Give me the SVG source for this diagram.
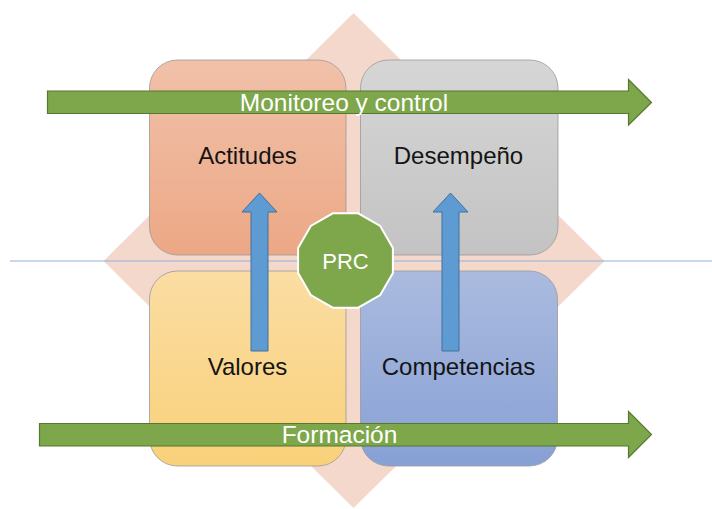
<svg xmlns="http://www.w3.org/2000/svg" width="712" height="509" viewBox="0 0 712 509">
  <defs>
    <linearGradient id="gOrange" x1="0" y1="0" x2="0" y2="1">
      <stop offset="0" stop-color="#F1C1A9"/>
      <stop offset="1" stop-color="#ECA886"/>
    </linearGradient>
    <linearGradient id="gGray" x1="0" y1="0" x2="0" y2="1">
      <stop offset="0" stop-color="#D6D6D6"/>
      <stop offset="1" stop-color="#C3C3C3"/>
    </linearGradient>
    <linearGradient id="gYellow" x1="0" y1="0" x2="0" y2="1">
      <stop offset="0" stop-color="#FBDDA3"/>
      <stop offset="1" stop-color="#F9D17A"/>
    </linearGradient>
    <linearGradient id="gBlue" x1="0" y1="0" x2="0" y2="1">
      <stop offset="0" stop-color="#ABBBDF"/>
      <stop offset="1" stop-color="#87A0D5"/>
    </linearGradient>
  </defs>
  <style>
    .box { stroke: #9A9A9A; stroke-opacity: 0.8; stroke-width: 1; }
    .lbl { font-family: "Liberation Sans", Arial, sans-serif; font-size: 24px; fill: #141414; text-anchor: middle; }
    .wlbl { font-family: "Liberation Sans", Arial, sans-serif; font-size: 24px; fill: #FFFFFF; text-anchor: middle; }
    .green { fill: #7DA74A; stroke: #56792F; stroke-width: 1.2; }
    .blue { fill: #5F9BD3; stroke: #41719C; stroke-width: 1; }
  </style>
  <rect width="712" height="509" fill="#FFFFFF"/>

  <g id="background">
    <polygon points="353.5,13 604.5,261 353.5,508 103.5,261" fill="#F5D8CC"/>
    <line x1="10" y1="261" x2="712" y2="261" stroke="#8EB1DE" stroke-width="1"/>
  </g>

  <g id="actitudes">
    <rect class="box" x="149.5" y="60" width="196.5" height="195" rx="28" ry="28" fill="url(#gOrange)"/>
    <text class="lbl" x="247.5" y="164">Actitudes</text>
  </g>
  <g id="desempeno">
    <rect class="box" x="360.5" y="60" width="197.5" height="195" rx="28" ry="28" fill="url(#gGray)"/>
    <text class="lbl" x="458.5" y="164">Desempeño</text>
  </g>
  <g id="valores">
    <rect class="box" x="149.5" y="271" width="196.5" height="195" rx="28" ry="28" fill="url(#gYellow)"/>
    <text class="lbl" x="247.5" y="375">Valores</text>
  </g>
  <g id="competencias">
    <rect class="box" x="360.5" y="271" width="197" height="195" rx="28" ry="28" fill="url(#gBlue)"/>
    <text class="lbl" x="458.5" y="375">Competencias</text>
  </g>

  <g id="connectors">
    <polygon class="blue" points="259.5,193 277,212 268,212 268,351 251,351 251,212 242,212"/>
    <polygon class="blue" points="450.5,193 468,212 459,212 459,351 442,351 442,212 433,212"/>
  </g>

  <g id="prc">
    <polygon points="332.8,213.3 358.2,213.3 380.2,226 392.9,248 392.9,273 380.2,295 358.2,307.7 332.8,307.7 310.8,295 298.1,273 298.1,248 310.8,226" fill="#7DA74A" stroke="#FFFFFF" stroke-width="2"/>
    <text class="wlbl" x="345.5" y="268.5" style="font-size:22px">PRC</text>
  </g>

  <g id="monitoreo">
    <polygon class="green" points="47.5,91 628.5,91 628.5,79.5 651.5,102.5 628.5,125 628.5,113.5 47.5,113.5"/>
    <text class="wlbl" x="344" y="110.5" style="font-size:24.5px">Monitoreo y control</text>
  </g>
  <g id="formacion">
    <polygon class="green" points="39.5,423.5 628.5,423.5 628.5,411.5 651.5,434.5 628.5,457.5 628.5,446 39.5,446"/>
    <text class="wlbl" x="339.5" y="442.5" style="font-size:24.5px">Formación</text>
  </g>
</svg>
